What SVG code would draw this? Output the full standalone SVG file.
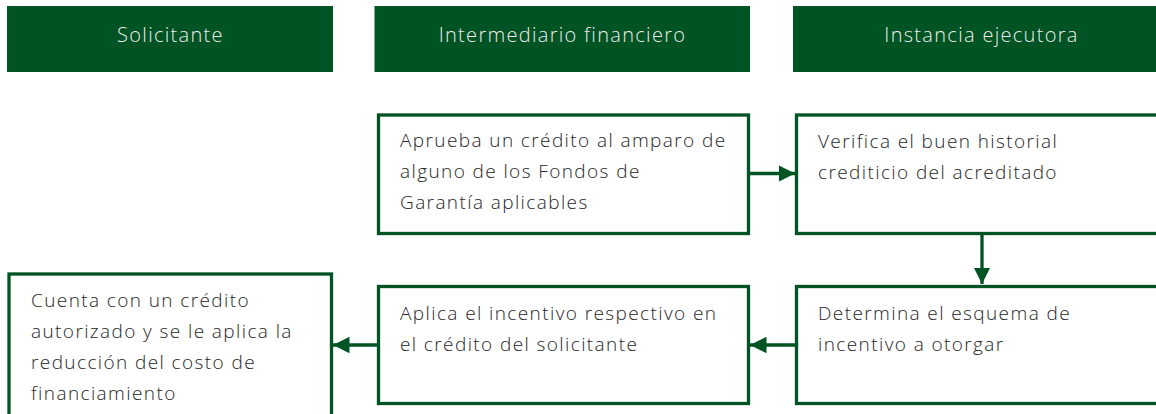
<svg xmlns="http://www.w3.org/2000/svg" width="1156" height="414" viewBox="0 0 1156 414">
<defs>
<style>
.hdr{fill:#005323;}
.ht{font-family:"Open Sans","Liberation Sans",sans-serif;font-weight:300;font-size:20px;letter-spacing:1.3px;fill:#ededed;text-anchor:middle;}
.box{fill:#ffffff;stroke:#005323;stroke-width:3.3;}
.bt{font-family:"Open Sans","Liberation Sans",sans-serif;font-weight:300;font-size:19px;letter-spacing:1.4px;fill:#262626;}
.conn{stroke:#005323;stroke-width:3.3;fill:none;}
</style>
<marker id="ah" viewBox="0 0 10 10" refX="10" refY="5" markerWidth="5" markerHeight="5" markerUnits="strokeWidth" orient="auto">
<path d="M0,0 L10,5 L0,10 Z" fill="#005323"/>
</marker>
</defs>
<rect width="1156" height="414" fill="#ffffff"/>
<g id="header-solicitante"><rect class="hdr" x="7" y="6" width="326" height="66"/><text class="ht" x="170.5" y="42">Solicitante</text></g>
<g id="header-intermediario"><rect class="hdr" x="374.5" y="6" width="375.5" height="66"/><text class="ht" x="562.5" y="42">Intermediario financiero</text></g>
<g id="header-instancia"><rect class="hdr" x="793" y="6" width="376" height="66"/><text class="ht" x="981.5" y="42">Instancia ejecutora</text></g>
<g id="n1"><rect class="box" x="378.5" y="115" width="370" height="118.5"/><text class="bt"><tspan x="400" y="147">Aprueba un crédito al amparo de</tspan><tspan x="400" y="178">alguno de los Fondos de</tspan><tspan x="400" y="209">Garantía aplicables</tspan></text></g>
<g id="n2"><rect class="box" x="796.5" y="115" width="370" height="118.5"/><text class="bt"><tspan x="818" y="148">Verifica el buen historial</tspan><tspan x="818" y="179">crediticio del acreditado</tspan></text></g>
<g id="n3"><rect class="box" x="796.5" y="286.5" width="370" height="117"/><text class="bt"><tspan x="818" y="320">Determina el esquema de</tspan><tspan x="818" y="351">incentivo a otorgar</tspan></text></g>
<g id="n4"><rect class="box" x="378.5" y="286.5" width="370" height="117"/><text class="bt"><tspan x="400" y="320">Aplica el incentivo respectivo en</tspan><tspan x="400" y="351">el crédito del solicitante</tspan></text></g>
<g id="n5"><rect class="box" x="9" y="274" width="322.5" height="150"/><text class="bt"><tspan x="31" y="307">Cuenta con un crédito</tspan><tspan x="31" y="338">autorizado y se le aplica la</tspan><tspan x="31" y="369">reducción del costo de</tspan><tspan x="31" y="400">financiamiento</tspan></text></g>
<g id="connectors">
<line class="conn" x1="750" y1="173.5" x2="795" y2="173.5" marker-end="url(#ah)"/>
<line class="conn" x1="982" y1="235" x2="982" y2="284" marker-end="url(#ah)"/>
<line class="conn" x1="795" y1="345" x2="750" y2="345" marker-end="url(#ah)"/>
<line class="conn" x1="377" y1="345" x2="333" y2="345" marker-end="url(#ah)"/>
</g>
</svg>
